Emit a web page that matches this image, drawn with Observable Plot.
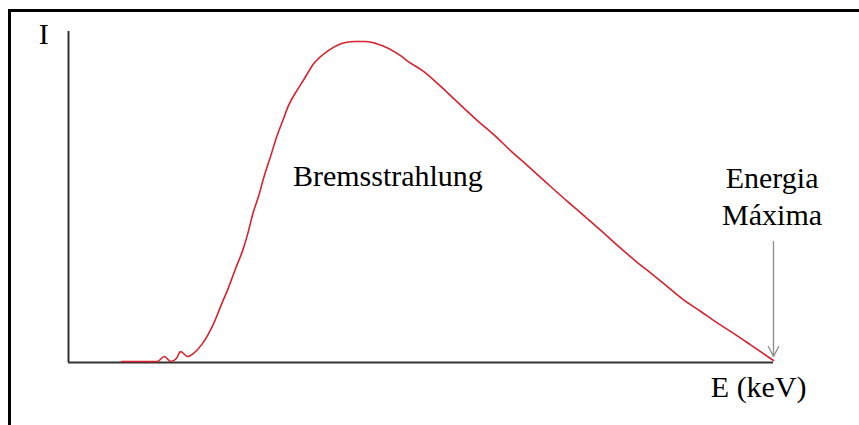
<!DOCTYPE html>
<html>
<head>
<meta charset="utf-8">
<script src="https://cdn.jsdelivr.net/npm/d3@7"></script>
<script src="https://cdn.jsdelivr.net/npm/@observablehq/plot@0.6"></script>
<style>
  html, body { margin: 0; padding: 0; overflow: hidden; background: #fff; }
  #sheet { position: relative; width: 859px; height: 425px; overflow: hidden; }
  #border {
    position: absolute; left: 8px; top: 9px; width: 900px; height: 500px;
    border-top: 3px solid #000; border-left: 3px solid #000;
  }
  #chart { position: absolute; left: 0; top: 0; }
</style>
</head>
<body>
<div id="sheet">
  <div id="border"></div>
  <div id="chart"></div>
</div>
<script>
// Bremsstrahlung spectrum: energy as % of the maximum energy, intensity in arbitrary units
const energy = [
  7.5, 12.6, 13.6, 14.5, 15.3, 15.9, 16.9, 17.7, 19.0, 19.9, 20.6, 21.8, 22.6, 23.7,
  24.7, 25.4, 26.2, 27.0, 27.7, 28.7, 29.4, 30.4, 31.2, 32.5, 33.3, 34.8, 36.9, 39.3,
  40.7, 42.1, 43.6, 47.1, 48.2, 50.4, 52.8, 54.6, 56.3, 58.0, 60.9, 62.7, 65.1, 67.9,
  70.8, 73.1, 75.5, 77.9, 80.7, 82.6, 84.4, 87.2, 89.7, 91.5, 93.9, 96.7, 100
];
const intensity = [
  0.3, 0.3, 1.8, 0.3, 1.2, 3.3, 1.8, 2.7, 5.7, 8.8, 11.8, 18.1, 22.1, 28.4,
  33.8, 38.7, 45.3, 50.5, 55.9, 62.5, 67.4, 73.1, 77.6, 82.5, 85.2, 90.3, 94.3, 96.7,
  97.0, 97.0, 96.4, 92.7, 90.9, 87.9, 83.4, 79.8, 76.4, 73.1, 67.7, 64.0, 59.5, 54.1,
  48.6, 44.4, 39.9, 35.3, 30.2, 27.0, 23.9, 19.0, 15.4, 12.7, 9.4, 5.4, 0.6
];
const spectrum = energy.map((e, i) => ({e, i: intensity[i]}));

const maxEnergy = 100;

// Text labels placed in data units
const labels = [
  {text: "I", e: -3.5, i: 99.9},
  {text: "Bremsstrahlung", e: 45.3, i: 57.0},
  {text: "Energia\nMáxima", e: 99.8, i: 50.8},
  {text: "E (keV)", e: 97.9, i: -6.8}
];

// Pointer from the label down to the cut-off energy
const pointer = [{e: maxEnergy, from: 36.6, to: 1.8}];

const chart = Plot.plot({
  width: 859,
  height: 425,
  marginLeft: 68,
  marginRight: 86,
  marginTop: 31,
  marginBottom: 63,
  x: {axis: null, domain: [0, 100]},
  y: {axis: null, domain: [0, 100]},
  style: {fontFamily: "'Liberation Serif', 'Times New Roman', serif", background: "transparent", overflow: "visible"},
  marks: [
    Plot.ruleX([0], {stroke: "#333", strokeWidth: 2}),
    Plot.ruleY([0], {stroke: "#333", strokeWidth: 2}),
    Plot.line(spectrum, {x: "e", y: "i", stroke: "#d6222e", strokeWidth: 1.6, curve: "monotone-x"}),
    Plot.arrow(pointer, {
      x1: "e", x2: "e", y1: "from", y2: "to",
      stroke: "#8c8c8c", strokeWidth: 1.3, headLength: 13, headAngle: 55, bend: 0
    }),
    Plot.text(labels, {
      x: "e", y: "i", text: "text",
      fontSize: 30, lineHeight: 1.23, fill: "#000"
    })
  ]
});

document.getElementById("chart").appendChild(chart);
</script>
</body>
</html>
